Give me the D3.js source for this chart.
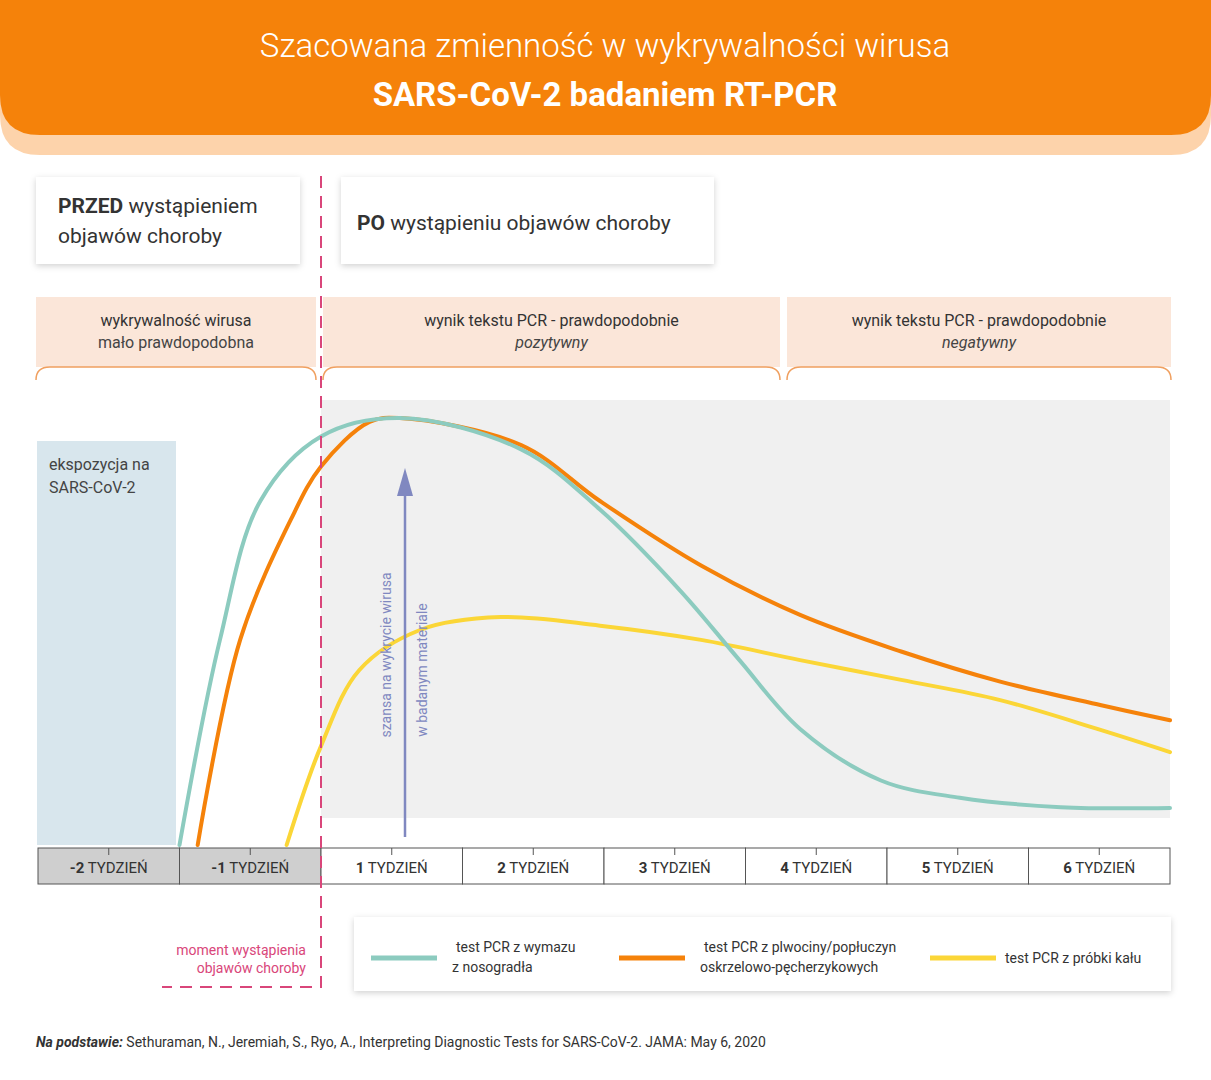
<!DOCTYPE html>
<html><head><meta charset="utf-8">
<script src="https://cdn.jsdelivr.net/npm/d3@7"></script>
<style>body{margin:0;background:#fff;font-family:Roboto,sans-serif}</style>
</head><body><svg id="c" width="1211" height="1080"></svg>
<script>
const weeks=["-2","-1","1","2","3","4","5","6"];
const teal=[[-7,0],[-5,47.7],[-3,80],[0,95],[3.9,99.3],[9.9,92],[13.8,78],[17.8,59],[20.7,43],[23.7,27],[27.7,15],[31.6,11],[36.6,8.8],[42,8.6]];
const orange=[[-6.1,0],[-4,47.7],[-1.5,75.6],[0,88],[2.4,98.4],[3.9,99.3],[9.9,93],[13.8,80],[18.8,65],[23.7,53.5],[28.7,45],[33.6,38],[38.6,32.5],[42,29]];
const yellow=[[-1.7,0],[0,23],[1.9,40.7],[4.9,50],[8.9,53],[13.8,51],[18.8,47.7],[23.7,43],[28.7,38.4],[33.6,33.7],[38.6,26.7],[42,21.6]];
const legend=[["test PCR z wymazu","z nosogradła","#8ccbbf"],["test PCR z plwociny/popłuczyn","oskrzelowo-pęcherzykowych","#f5820a"],["test PCR z próbki kału","","#fbd637"]];

const svg=d3.select("#c");
const x=d3.scaleLinear().domain([-14,42]).range([38,1170]);
const y=d3.scaleLinear().domain([0,100]).range([845,415]);
const defs=svg.append("defs");
const f=defs.append("filter").attr("id","sh").attr("x","-10%").attr("y","-20%").attr("width","120%").attr("height","150%");
f.append("feDropShadow").attr("dx",0).attr("dy",2).attr("stdDeviation",3).attr("flood-opacity",0.18);

// header
svg.append("path").attr("d","M0,0H1211V115Q1211,155 1171,155H40Q0,155 0,115Z").attr("fill","#fdd3ab");
svg.append("path").attr("d","M0,0H1211V95Q1211,135 1171,135H40Q0,135 0,95Z").attr("fill","#f5820a");
svg.append("text").attr("x",605).attr("y",57).attr("text-anchor","middle").attr("fill","#fff").attr("font-size",33).attr("font-weight",300).text("Szacowana zmienność w wykrywalności wirusa");
svg.append("text").attr("x",605).attr("y",106).attr("text-anchor","middle").attr("fill","#fff").attr("font-size",33).attr("font-weight",700).text("SARS-CoV-2 badaniem RT-PCR");

// before/after boxes
svg.append("rect").attr("x",36).attr("y",177).attr("width",264).attr("height",87).attr("fill","#fff").attr("filter","url(#sh)");
let t=svg.append("text").attr("x",58).attr("y",213).attr("font-size",21).attr("fill","#333");
t.append("tspan").attr("font-weight",700).text("PRZED");t.append("tspan").text(" wystąpieniem");
svg.append("text").attr("x",58).attr("y",243).attr("font-size",21).attr("fill","#333").text("objawów choroby");
svg.append("rect").attr("x",341).attr("y",177).attr("width",373).attr("height",87).attr("fill","#fff").attr("filter","url(#sh)");
t=svg.append("text").attr("x",357).attr("y",230).attr("font-size",21).attr("fill","#333");
t.append("tspan").attr("font-weight",700).text("PO");t.append("tspan").text(" wystąpieniu objawów choroby");

// phase bands
const bands=[[36,316,"wykrywalność wirusa","mało prawdopodobna",false],[323,780,"wynik tekstu PCR - prawdopodobnie","pozytywny",true],[787,1171,"wynik tekstu PCR - prawdopodobnie","negatywny",true]];
bands.forEach(b=>{
 svg.append("rect").attr("x",b[0]).attr("y",297).attr("width",b[1]-b[0]).attr("height",70).attr("fill","#fbe6d9");
 svg.append("path").attr("d",`M${b[0]},380Q${b[0]},367 ${b[0]+14},367H${b[1]-14}Q${b[1]},367 ${b[1]},380`).attr("fill","none").attr("stroke","#f0a060").attr("stroke-width",1.5);
 const cx=(b[0]+b[1])/2;
 svg.append("text").attr("x",cx).attr("y",326).attr("text-anchor","middle").attr("font-size",16).attr("fill","#333").text(b[2]);
 svg.append("text").attr("x",cx).attr("y",348).attr("text-anchor","middle").attr("font-size",16).attr("fill","#444").attr("font-style",b[4]?"italic":"normal").text(b[3]);
});

// gray shading and blue exposure box
svg.append("rect").attr("x",x(0)).attr("y",400).attr("width",x(42)-x(0)).attr("height",418).attr("fill","#f0f0f0");
svg.append("rect").attr("x",37).attr("y",441).attr("width",139).attr("height",404).attr("fill","#d8e6ed");
svg.append("text").attr("x",49).attr("y",470).attr("font-size",16).attr("fill","#444").text("ekspozycja na");
svg.append("text").attr("x",49).attr("y",493).attr("font-size",16).attr("fill","#444").text("SARS-CoV-2");

// axis cells
weeks.forEach((w,i)=>{
 const x0=x(-14+i*7),x1=x(-7+i*7);
 svg.append("rect").attr("x",x0).attr("y",848).attr("width",x1-x0).attr("height",36).attr("fill",i<2?"#cfcfcf":"#fff").attr("stroke","#555").attr("stroke-width",1);
 svg.append("line").attr("x1",(x0+x1)/2).attr("x2",(x0+x1)/2).attr("y1",848).attr("y2",855).attr("stroke","#555");
 const tt=svg.append("text").attr("x",(x0+x1)/2).attr("y",873).attr("text-anchor","middle").attr("font-size",15).attr("fill","#333");
 tt.append("tspan").attr("font-weight",700).text(w);tt.append("tspan").text(" TYDZIEŃ");
});

// curves
const line=d3.line().x(d=>x(d[0])).y(d=>y(d[1])).curve(d3.curveCatmullRom.alpha(0.5));
[[yellow,"#fbd637"],[orange,"#f5820a"],[teal,"#8ccbbf"]].forEach(s=>{
 svg.append("path").attr("d",line(s[0])).attr("fill","none").attr("stroke",s[1]).attr("stroke-width",4).attr("stroke-linecap","round");
});

// arrow
svg.append("line").attr("x1",405).attr("x2",405).attr("y1",837).attr("y2",490).attr("stroke","#8088c0").attr("stroke-width",2.5);
svg.append("path").attr("d","M405,468L397,496H413Z").attr("fill","#8088c0");
svg.append("text").attr("transform","translate(391,655) rotate(-90)").attr("text-anchor","middle").attr("font-size",14).attr("fill","#8088c0").text("szansa na wykrycie wirusa");
svg.append("text").attr("transform","translate(427,670) rotate(-90)").attr("text-anchor","middle").attr("font-size",14).attr("fill","#8088c0").text("w badanym materiale");

// onset dashed line
svg.append("path").attr("d",`M${x(0)},176V987H162`).attr("fill","none").attr("stroke","#d9467a").attr("stroke-width",2).attr("stroke-dasharray","12,8");
svg.append("text").attr("x",306).attr("y",955).attr("text-anchor","end").attr("font-size",14).attr("fill","#d9467a").text("moment wystąpienia");
svg.append("text").attr("x",306).attr("y",973).attr("text-anchor","end").attr("font-size",14).attr("fill","#d9467a").text("objawów choroby");

// legend
svg.append("rect").attr("x",354).attr("y",917).attr("width",817).attr("height",74).attr("fill","#fff").attr("filter","url(#sh)");
const lx=[[371,452],[619,700],[930,1005]];
legend.forEach((l,i)=>{
 svg.append("line").attr("x1",lx[i][0]).attr("x2",lx[i][0]+66).attr("y1",958).attr("y2",958).attr("stroke",l[2]).attr("stroke-width",5);
 if(l[1]){
  svg.append("text").attr("x",lx[i][1]+4).attr("y",952).attr("font-size",14).attr("fill","#333").text(l[0]);
  svg.append("text").attr("x",lx[i][1]).attr("y",972).attr("font-size",14).attr("fill","#333").text(l[1]);
 } else svg.append("text").attr("x",lx[i][1]).attr("y",963).attr("font-size",14).attr("fill","#333").text(l[0]);
});

// source
t=svg.append("text").attr("x",36).attr("y",1047).attr("font-size",14).attr("fill","#333");
t.append("tspan").attr("font-weight",700).attr("font-style","italic").text("Na podstawie:");
t.append("tspan").text(" Sethuraman, N., Jeremiah, S., Ryo, A., Interpreting Diagnostic Tests for SARS-CoV-2. JAMA: May 6, 2020");
</script></body></html>
